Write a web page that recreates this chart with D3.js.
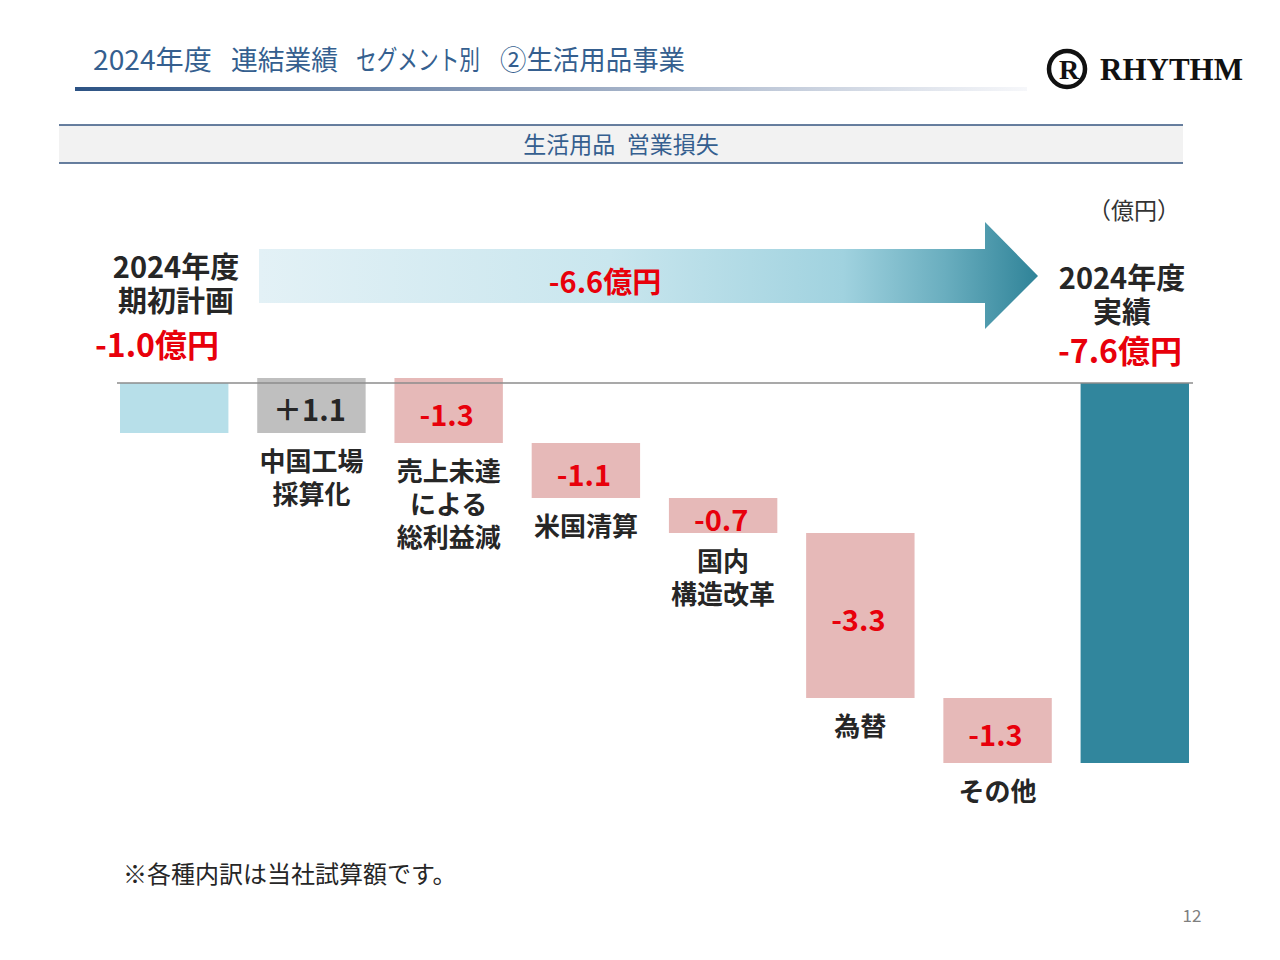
<!DOCTYPE html>
<html>
<head>
<meta charset="utf-8">
<script src="https://cdn.jsdelivr.net/npm/d3@7"></script>
<style>
  body { margin: 0; background: #fff; }
  svg text { font-family: "Noto Sans CJK JP", "Noto Sans", sans-serif; }
</style>
</head>
<body>
<div id="chart"></div>
<script>
// data
var categories = ["期初計画", "中国工場採算化", "売上未達による総利益減", "米国清算", "国内構造改革", "為替", "その他", "実績"];
var labelLines = [[], ["中国工場", "採算化"], ["売上未達", "による", "総利益減"], ["米国清算"], ["国内", "構造改革"], ["為替"], ["その他"], []];
var startValue = -1.0;
var steps = [1.1, -1.3, -1.1, -0.7, -3.3, -1.3];
var endValue = -7.6;
var valueLabels = ["", "＋1.1", "-1.3", "-1.1", "-0.7", "-3.3", "-1.3", ""];
var titleParts = ["2024年度", "連結業績", "セグメント別", "②生活用品事業"];

var width = 1280, height = 960;

// plain hyphen instead of unicode minus
var fmt = function(v) { return d3.format(".1f")(v).replace("\u2212", "-"); };

var svg = d3.select("#chart").append("svg")
    .attr("width", width)
    .attr("height", height);

var defs = svg.append("defs");

var titleGrad = defs.append("linearGradient").attr("id", "titleGrad");
titleGrad.append("stop").attr("offset", "0%").attr("stop-color", "#2c5384");
titleGrad.append("stop").attr("offset", "45%").attr("stop-color", "#8a9cb8");
titleGrad.append("stop").attr("offset", "100%").attr("stop-color", "#f6f7fa");

var arrowGrad = defs.append("linearGradient").attr("id", "arrowGrad")
    .attr("gradientUnits", "userSpaceOnUse")
    .attr("x1", 259).attr("x2", 1038).attr("y1", 0).attr("y2", 0);
arrowGrad.append("stop").attr("offset", "0%").attr("stop-color", "#e3f1f6");
arrowGrad.append("stop").attr("offset", "45%").attr("stop-color", "#c9e6ee");
arrowGrad.append("stop").attr("offset", "75%").attr("stop-color", "#a0d2df");
arrowGrad.append("stop").attr("offset", "88%").attr("stop-color", "#6aaebf");
arrowGrad.append("stop").attr("offset", "100%").attr("stop-color", "#2f8398");

// title, one piece per segment so the gaps match the slide
var titleX = [93, 231, 356, 500], titleW = [119, 107, 124, 185];
titleParts.forEach(function(t, i) {
  svg.append("text")
    .attr("x", titleX[i]).attr("y", 70)
    .attr("textLength", titleW[i])
    .attr("lengthAdjust", "spacingAndGlyphs")
    .style("font-size", "27px")
    .style("fill", "#355f8f")
    .text(t);
});

svg.append("rect")
    .attr("x", 75).attr("y", 87).attr("width", 952).attr("height", 4)
    .attr("fill", "url(#titleGrad)");

// logo
var logo = svg.append("g");
logo.append("circle")
    .attr("cx", 1067).attr("cy", 69).attr("r", 18)
    .attr("fill", "none").attr("stroke", "#111").attr("stroke-width", 4.5);
logo.append("text")
    .attr("x", 1069).attr("y", 79)
    .attr("text-anchor", "middle")
    .style("font-family", "'Liberation Serif', serif")
    .style("font-weight", "bold")
    .style("font-size", "28px")
    .style("fill", "#111")
    .text("R");
logo.append("text")
    .attr("x", 1100).attr("y", 80)
    .style("font-family", "'Liberation Serif', serif")
    .style("font-weight", "bold")
    .style("font-size", "31px")
    .style("fill", "#111")
    .text("RHYTHM");

// header band
svg.append("rect")
    .attr("x", 59).attr("y", 125).attr("width", 1124).attr("height", 38)
    .attr("fill", "#f2f2f2");
svg.append("line").attr("x1", 59).attr("x2", 1183).attr("y1", 125).attr("y2", 125)
    .attr("stroke", "#34557f").attr("stroke-width", 1.5);
svg.append("line").attr("x1", 59).attr("x2", 1183).attr("y1", 163).attr("y2", 163)
    .attr("stroke", "#34557f").attr("stroke-width", 1.5);
svg.append("text")
    .attr("x", 621).attr("y", 153)
    .attr("text-anchor", "middle")
    .style("font-size", "23px")
    .style("fill", "#355f8f")
    .text("生活用品\u2002営業損失");

// unit
svg.append("text")
    .attr("x", 1134).attr("y", 219)
    .attr("text-anchor", "middle")
    .style("font-size", "23px")
    .style("fill", "#333")
    .text("（億円）");

// scales
var x = d3.scaleBand()
    .domain(categories)
    .range([120, 1189])
    .paddingInner(0.21)
    .paddingOuter(0);

var y = d3.scaleLinear()
    .domain([0, endValue])
    .range([383, 763]);

// waterfall rows
var rows = [];
var run = startValue;
rows.push({ cat: categories[0], y0: 0, y1: startValue, kind: "start" });
steps.forEach(function(s, i) {
  rows.push({ cat: categories[i + 1], y0: run, y1: run + s, kind: s >= 0 ? "up" : "down" });
  run = run + s;
});
rows.push({ cat: categories[categories.length - 1], y0: 0, y1: endValue, kind: "total" });

var fill = { start: "#b7dfe9", up: "#bfbfbf", down: "#e6b9b8", total: "#31869d" };

svg.selectAll("rect.bar")
  .data(rows)
  .enter()
  .append("rect")
    .attr("class", "bar")
    .attr("x", function(d) { return x(d.cat); })
    .attr("width", x.bandwidth())
    .attr("y", function(d) { return y(Math.max(d.y0, d.y1)); })
    .attr("height", function(d) { return Math.abs(y(d.y0) - y(d.y1)); })
    .attr("fill", function(d) { return fill[d.kind]; });

// zero line
svg.append("line")
    .attr("x1", 117).attr("x2", 1193)
    .attr("y1", y(0)).attr("y2", y(0))
    .attr("stroke", "#8c8c8c").attr("stroke-width", 1.5);

// value labels inside bars
svg.selectAll("text.val")
  .data(rows)
  .enter()
  .append("text")
    .attr("class", "val")
    .attr("x", function(d) { return x(d.cat) + x.bandwidth() / 2 - 2; })
    .attr("y", function(d) { return (y(d.y0) + y(d.y1)) / 2 + 2; })
    .attr("text-anchor", "middle")
    .attr("dominant-baseline", "central")
    .style("font-size", "29px")
    .style("font-weight", "bold")
    .style("fill", function(d) { return d.kind === "up" ? "#262626" : "#e8000b"; })
    .text(function(d, i) { return valueLabels[i]; });

// category labels under bars (one text per label, lines as tspans)
rows.forEach(function(d, i) {
  if (!labelLines[i].length) return;
  var bottom = y(Math.min(d.y0, d.y1));
  var cx = x(d.cat) + x.bandwidth() / 2;
  var t = svg.append("text")
    .attr("text-anchor", "middle")
    .style("font-size", "26px")
    .style("font-weight", "bold")
    .style("fill", "#262626");
  labelLines[i].forEach(function(line, j) {
    t.append("tspan")
      .attr("x", cx)
      .attr("y", bottom + 38 + j * 33)
      .text(line);
  });
});

// arrow
svg.append("path")
    .attr("d", "M259,249 L985,249 L985,222 L1038,276 L985,329 L985,303 L259,303 Z")
    .attr("fill", "url(#arrowGrad)");

svg.append("text")
    .attr("x", 605).attr("y", 280)
    .attr("text-anchor", "middle")
    .attr("dominant-baseline", "central")
    .style("font-size", "29px")
    .style("font-weight", "bold")
    .style("fill", "#e8000b")
    .text(fmt(endValue - startValue) + "億円");

// left and right headline labels
function headline(cx, lines, yFirst, valText, valX, valY) {
  var t = svg.append("text")
    .attr("text-anchor", "middle")
    .style("font-weight", "bold");
  lines.forEach(function(s, j) {
    t.append("tspan")
      .attr("x", cx).attr("y", yFirst + j * 34)
      .style("font-size", "29px")
      .style("fill", "#262626")
      .text(s);
  });
  t.append("tspan")
    .attr("x", valX).attr("y", valY)
    .style("font-size", "32px")
    .style("fill", "#e8000b")
    .text(valText);
}
headline(176, ["2024年度", "期初計画"], 278, fmt(startValue) + "億円", 157, 357);
headline(1122, ["2024年度", "実績"], 289, fmt(endValue) + "億円", 1120, 363);

// footnote + page number
svg.append("text")
    .attr("x", 123).attr("y", 883)
    .style("font-size", "24px")
    .style("fill", "#262626")
    .text("※各種内訳は当社試算額です。");

svg.append("text")
    .attr("x", 1192).attr("y", 922)
    .attr("text-anchor", "middle")
    .style("font-size", "17px")
    .style("fill", "#7f7f7f")
    .text("12");
</script>
</body>
</html>
